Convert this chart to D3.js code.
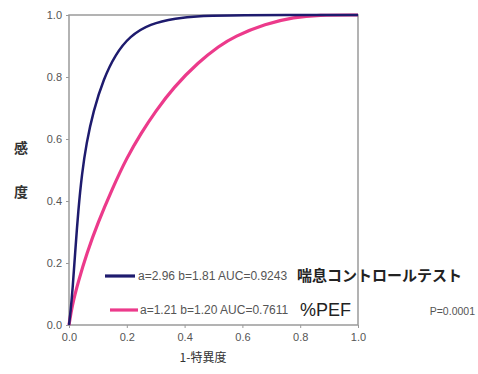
<!DOCTYPE html>
<html lang="ja">
<head>
<meta charset="utf-8">
<title>ROC</title>
<script src="https://d3js.org/d3.v7.min.js"></script>
<style>
  body { margin: 0; background: #fff; font-family: "Liberation Sans", Arial, sans-serif; }
  .tick text { fill: #555; font-size: 11px; font-family: "Liberation Sans", Arial, sans-serif; }
  .tick line { stroke: #999; }
  path.domain { display: none; }
</style>
</head>
<body>
<div id="vis"></div>
<script>

// ROC points (1-specificity, sensitivity)
var actFpr = [0, 0.005, 0.013, 0.021, 0.032, 0.045, 0.06, 0.084, 0.12, 0.16, 0.21, 0.28, 0.37, 0.45, 0.55, 1.0];
var actTpr = [0, 0.04, 0.12, 0.23, 0.37, 0.49, 0.585, 0.69, 0.795, 0.872, 0.932, 0.972, 0.99, 0.997, 1.0, 1.0];

var pefFpr = [0, 0.01, 0.032, 0.061, 0.1, 0.15, 0.2, 0.25, 0.3, 0.36, 0.45, 0.52, 0.57, 0.68, 0.78, 0.86, 1.0];
var pefTpr = [0, 0.06, 0.14, 0.23, 0.33, 0.44, 0.54, 0.62, 0.69, 0.765, 0.85, 0.90, 0.93, 0.972, 0.993, 1.0, 1.0];

var seriesStats = ['a=2.96 b=1.81 AUC=0.9243', 'a=1.21 b=1.20 AUC=0.7611'];
var seriesNames = ['喘息コントロールテスト', '%PEF'];
var seriesColors = ['#1e1b6e', '#ec3a8b'];
var tickValues = [0, 0.2, 0.4, 0.6, 0.8, 1.0];
var pText = 'P=0.0001';

var W = 478, H = 374;
var margin = { top: 15, left: 69, right: 120, bottom: 49 };
var w = W - margin.left - margin.right;   // 289
var h = H - margin.top - margin.bottom;   // 310

var svg = d3.select('#vis').append('svg')
    .attr('width', W)
    .attr('height', H);

var g = svg.append('g')
    .attr('transform', 'translate(' + margin.left + ',' + margin.top + ')');

var x = d3.scaleLinear().domain([0, 1]).range([0, w]);
var y = d3.scaleLinear().domain([0, 1]).range([h, 0]);

/* Axes */
g.append('g')
    .call(d3.axisLeft(y).tickValues(tickValues).tickFormat(d3.format('.1f')).tickSize(3).tickPadding(4));

g.append('g')
    .attr('transform', 'translate(0,' + h + ')')
    .call(d3.axisBottom(x).tickValues(tickValues).tickFormat(d3.format('.1f')).tickSize(3).tickPadding(5));

/* Frame */
g.append('rect')
    .attr('width', w)
    .attr('height', h)
    .attr('fill', 'none')
    .attr('stroke', '#9a9a9a')
    .attr('stroke-width', 1.5);

/* Curves */
var line = d3.line()
    .x(function(d) { return x(d[0]); })
    .y(function(d) { return y(d[1]); })
    .curve(d3.curveBasis);

var curves = [d3.zip(actFpr, actTpr), d3.zip(pefFpr, pefTpr)];

// pink first so the navy sits on top near the origin
[1, 0].forEach(function(i) {
  g.append('path')
      .datum(curves[i])
      .attr('d', line)
      .attr('fill', 'none')
      .attr('stroke', seriesColors[i])
      .attr('stroke-width', i === 0 ? 2.5 : 3.2);
});

/* Legend */
var legendRows = [
  { x1: 105, x2: 135, y: 276, statX: 138, nameX: 297, nameSize: 15 },
  { x1: 110, x2: 138, y: 310, statX: 140, nameX: 300, nameSize: 18 }
];

legendRows.forEach(function(r, i) {
  svg.append('line')
      .attr('x1', r.x1).attr('x2', r.x2)
      .attr('y1', r.y).attr('y2', r.y)
      .attr('stroke', seriesColors[i])
      .attr('stroke-width', 3.2);

  svg.append('text')
      .attr('x', r.statX)
      .attr('y', r.y)
      .attr('dy', '0.35em')
      .attr('fill', '#555')
      .style('font-size', '12px')
      .text(seriesStats[i]);

  svg.append('text')
      .attr('x', r.nameX)
      .attr('y', r.y)
      .attr('dy', '0.35em')
      .attr('fill', '#222')
      .style('font-family', i === 0 ? '"Noto Sans CJK JP", sans-serif' : '"Liberation Sans", Arial, sans-serif')
      .style('font-weight', i === 0 ? 'bold' : 'normal')
      .style('font-size', r.nameSize + 'px')
      .text(seriesNames[i]);
});

svg.append('text')
    .attr('x', 475)
    .attr('y', 311)
    .attr('dy', '0.35em')
    .attr('text-anchor', 'end')
    .attr('fill', '#555')
    .style('font-size', '10.5px')
    .text(pText);

/* Axis titles */
svg.append('text')
    .attr('x', 203)
    .attr('y', 358)
    .attr('dy', '0.35em')
    .attr('text-anchor', 'middle')
    .attr('fill', '#333')
    .style('font-family', '"Noto Sans CJK JP", sans-serif')
    .style('font-size', '12px')
    .text('1-特異度');

['感', '度'].forEach(function(ch, i) {
  svg.append('text')
      .attr('x', 21)
      .attr('y', 148 + i * 44)
      .attr('dy', '0.35em')
      .attr('text-anchor', 'middle')
      .attr('fill', '#333')
      .style('font-family', '"Noto Sans CJK JP", sans-serif')
      .style('font-size', '14px')
      .style('font-weight', 'bold')
      .text(ch);
});

</script>
</body>
</html>
